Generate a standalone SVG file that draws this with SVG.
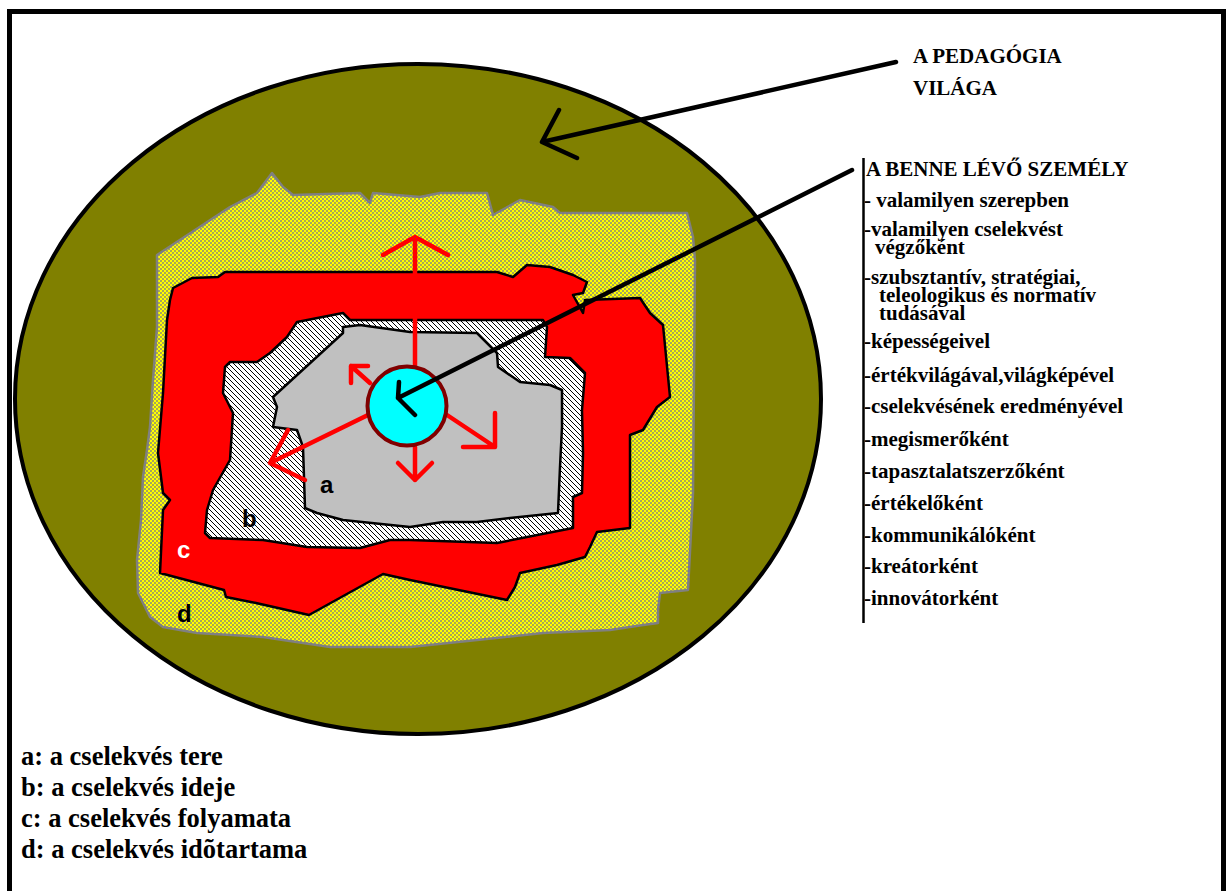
<svg xmlns="http://www.w3.org/2000/svg" width="1226" height="891" viewBox="0 0 1226 891">
<defs>
<pattern id="check" width="4" height="4" patternUnits="userSpaceOnUse">
<rect width="4" height="4" fill="#FFFF00"/>
<rect x="0" y="0" width="2" height="2" fill="#A8A858"/>
<rect x="2" y="2" width="2" height="2" fill="#A8A858"/>
</pattern>
<pattern id="hatch" width="5" height="5" patternUnits="userSpaceOnUse">
<rect width="5" height="5" fill="#FFFFFF"/>
<path d="M0,0 L5,5 M-1,4 L1,6 M4,-1 L6,1" stroke="#000" stroke-width="1"/>
</pattern>
</defs>
<style>
.ser{font-family:"Liberation Serif","Times New Roman",serif;font-weight:bold;fill:#000}
.lst{font-size:21px}
.leg{font-size:26.5px}
.lab{font-family:"Liberation Sans",Arial,sans-serif;font-weight:bold;font-size:24px}
.ray{stroke:#FF0000;stroke-width:4.5;fill:none;stroke-linecap:round;stroke-linejoin:round}
.blk{stroke:#000;stroke-width:4.5;fill:none;stroke-linecap:round;stroke-linejoin:round}
.reg{stroke:#000;stroke-width:2.5;stroke-linejoin:round}
</style>
<rect width="1226" height="891" fill="#FFFFFF"/>
<rect id="frame" x="9.5" y="11.5" width="1214" height="900" fill="none" stroke="#000" stroke-width="5"/>

<g id="world">
<ellipse cx="418" cy="399" rx="403" ry="335" fill="#808000" stroke="#000" stroke-width="4"/>
</g>

<g id="region-d">
<path d="M157,255 L230,207 L257,193 L272,173 L283,187 L293,195 L360,193 L370,203 L373,193 L420,197 L440,193 L487,193 L493,215 L520,200 L553,207 L560,213 L687,213 L693,237 L695,260 L693,493 L688,590 L660,593 L658,610 L658,623 L643,625 L610,630 L543,633 L477,640 L410,647 L330,647 L263,637 L197,633 L163,627 L150,617 L138,593 L137,560 L141,520 L143,477 L147,450 L150,427 L153,380 L157,327 Z" fill="url(#check)" stroke="#808080" stroke-width="2.5" stroke-linejoin="round"/>
</g>

<g id="region-c">
<path class="reg" d="M173,288 L192,278 L218,277 L225,272 L497,272 L513,277 L527,265 L550,267 L573,275 L587,282 L583,293 L573,295 L583,313 L585,300 L640,298 L650,313 L663,325 L670,397 L657,407 L643,430 L630,435 L630,528 L597,532 L590,547 L585,557 L557,565 L520,573 L515,587 L507,600 L410,580 L383,574 L309,615 L256,603 L226,597 L224,590 L160,573 L163,510 L170,500 L163,493 L158,453 L163,393 L167,320 L170,300 Z" fill="#FF0000"/>
</g>

<g id="region-b">
<path class="reg" d="M297,322 L343,313 L350,320 L543,320 L547,327 L545,357 L570,358 L585,373 L582,410 L583,453 L582,493 L573,497 L573,528 L497,543 L410,540 L390,540 L360,548 L307,547 L263,540 L210,538 L205,533 L207,510 L213,490 L230,460 L233,413 L230,407 L223,393 L225,367 L230,362 L257,362 L270,353 L287,337 Z" fill="url(#hatch)"/>
</g>

<g id="region-a">
<path class="reg" d="M273,397 L343,333 L343,327 L360,325 L410,332 L477,333 L487,343 L497,353 L498,367 L520,382 L550,385 L562,390 L562,427 L560,467 L558,513 L510,518 L477,522 L443,522 L410,527 L343,520 L317,513 L305,508 L303,447 L297,430 L273,427 L277,407 Z" fill="#C0C0C0"/>
</g>

<g id="rays">
<path class="ray" d="M415,367 L415,237 M383,255 L415,237 L448,255"/>
<path class="ray" d="M370,383 L351,366 M368,366 L351,366 L351,383"/>
<path class="ray" d="M368,415 L270,463 M288,430 L270,463 L305,480"/>
<path class="ray" d="M415,447 L415,480 M398,463 L415,480 L432,463"/>
<path class="ray" d="M447,415 L495,447 M495,413 L495,447 L463,447"/>
</g>

<g id="person">
<circle cx="407" cy="406" r="39.5" fill="#00FFFF" stroke="#800000" stroke-width="4"/>
</g>

<g id="connectors">
<path class="blk" d="M852,170 L398,398 M399,382 L398,398 L415,415"/>
<path class="blk" d="M896,62 L542,142 M559,110 L542,142 L577,158"/>
</g>

<g id="labels">
<text class="lab" x="320" y="493" fill="#000">a</text>
<text class="lab" x="242" y="527" fill="#000">b</text>
<text class="lab" x="177" y="558" fill="#FFFFFF">c</text>
<text class="lab" x="177" y="622" fill="#000">d</text>
</g>

<g id="pedagogia-label">
<text class="ser lst" x="913" y="63">A PEDAGÓGIA</text>
<text class="ser lst" x="913" y="95">VILÁGA</text>
</g>

<g id="person-list">
<line x1="863.5" y1="158" x2="863.5" y2="623" stroke="#000" stroke-width="2.5"/>
<text class="ser lst" x="866" y="176">A BENNE LÉVŐ SZEMÉLY</text>
<text class="ser lst" x="864" y="207">- valamilyen szerepben</text>
<text class="ser lst" x="864" y="236">-valamilyen cselekvést</text>
<text class="ser lst" x="875" y="254">végzőként</text>
<text class="ser lst" x="864" y="284">-szubsztantív, stratégiai,</text>
<text class="ser lst" x="879" y="302">teleologikus és normatív</text>
<text class="ser lst" x="879" y="320">tudásával</text>
<text class="ser lst" x="864" y="348">-képességeivel</text>
<text class="ser lst" x="864" y="382">-értékvilágával,világképével</text>
<text class="ser lst" x="864" y="413">-cselekvésének eredményével</text>
<text class="ser lst" x="864" y="446">-megismerőként</text>
<text class="ser lst" x="864" y="478">-tapasztalatszerzőként</text>
<text class="ser lst" x="864" y="510">-értékelőként</text>
<text class="ser lst" x="864" y="542">-kommunikálóként</text>
<text class="ser lst" x="864" y="573">-kreátorként</text>
<text class="ser lst" x="864" y="605">-innovátorként</text>
</g>

<g id="legend">
<text class="ser leg" x="21" y="765">a: a cselekvés tere</text>
<text class="ser leg" x="21" y="796">b: a cselekvés ideje</text>
<text class="ser leg" x="21" y="827">c: a cselekvés folyamata</text>
<text class="ser leg" x="21" y="858">d: a cselekvés idõtartama</text>
</g>
</svg>
